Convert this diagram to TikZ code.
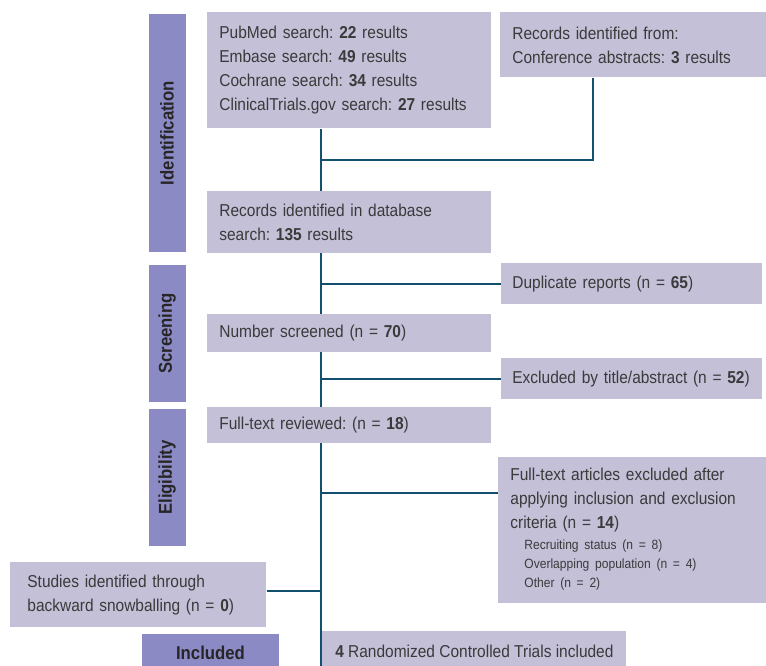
\documentclass[tikz,border=0pt]{standalone}
\usepackage{fontspec}
\setmainfont{Liberation Sans}[FakeStretch=0.9]
\usetikzlibrary{positioning,calc,backgrounds}
\definecolor{stagepurple}{HTML}{8C8AC4}
\definecolor{boxlilac}{HTML}{C4C0D8}
\definecolor{linenavy}{HTML}{134F6E}
\definecolor{inkgray}{HTML}{3A3A3A}
\newcommand\smalltxt{\fontsize{6.7}{9.5}\selectfont}
\frenchspacing
\hyphenpenalty=10000
\tikzset{
  % faser
  stage/.style={fill=stagepurple,text=black!85,font=\fontsize{9.3}{11}\selectfont\bfseries,
                inner sep=0pt,minimum height=18.5pt},
  % rutor
  rec/.style={fill=boxlilac,text=inkgray,anchor=north west,align=left,
              inner xsep=6pt,inner ysep=0pt,font=\fontsize{8.6}{12}\selectfont},
  flow/.style={draw=linenavy,line width=1pt},
}
\begin{document}
\begin{tikzpicture}[x=0.5pt,y=-0.5pt]
\useasboundingbox (0,0) rectangle (766,665);
  % faser
  \node[stage,rotate=90,minimum width=119pt] (ident) at (167,133) {Identification};
  \node[stage,rotate=90,minimum width=68.5pt] (screen) at (167,333.5) {Screening};
  \node[stage,rotate=90,minimum width=68.5pt] (elig) at (167,477.5) {Eligibility};
  \node[stage,minimum width=68.5pt] (incl) at (210.5,652.5) {Included};
  % rutor
  \node[rec,minimum width=142pt,minimum height=58pt,text width=130pt] (search) at (207,12)
    {PubMed search: \textbf{22} results\\Embase search: \textbf{49} results\\
     Cochrane search: \textbf{34} results\\ClinicalTrials.gov search: \textbf{27} results};
  \node[rec,minimum width=133pt,minimum height=32.5pt,text width=121pt] (conf) at (500,12)
    {Records identified from:\\Conference abstracts: \textbf{3} results};
  \node[rec,minimum width=142pt,minimum height=31pt,text width=130pt] (records) at (207,191)
    {Records identified in database\\search: \textbf{135} results};
  \node[rec,minimum width=130.5pt,minimum height=20.5pt,text width=119.5pt,inner xsep=5.5pt] (dup) at (501,263)
    {Duplicate reports (n = \textbf{65})};
  \node[rec,minimum width=142pt,minimum height=19pt,text width=130pt] (screened) at (207,314)
    {Number screened (n = \textbf{70})};
  \node[rec,minimum width=130.5pt,minimum height=20.5pt,text width=119.5pt,inner xsep=5.5pt] (excl) at (501,358)
    {Excluded by title/abstract (n = \textbf{52})};
  \node[rec,minimum width=142pt,minimum height=18pt,text width=130pt] (reviewed) at (207,407)
    {Full-text reviewed: (n = \textbf{18})};
  \node[rec,minimum width=134pt,minimum height=73pt,text width=122pt] (ftex) at (498,457)
    {Full-text articles excluded after\\applying inclusion and exclusion\\criteria (n = \textbf{14})\\[-1.5pt]
     \hspace*{7pt}{\smalltxt\begin{tabular}[t]{@{}l@{}}Recruiting status (n = 8)\\
       Overlapping population (n = 4)\\Other (n = 2)\end{tabular}}};
  \node[rec,minimum width=128pt,minimum height=32.5pt,inner xsep=8.5pt,text width=111pt] (snow) at (10,562)
    {Studies identified through\\backward snowballing (n = \textbf{0})};
  \node[rec,minimum width=152pt,minimum height=20pt,inner xsep=5.5pt] (rct) at (322,631)
    {\textbf{4} Randomized Controlled Trials included};
  % linjer
  \coordinate (sp) at (321,0);
  \coordinate (cj) at (593,160);
  \coordinate (fj) at (321,493);
  \begin{scope}[on background layer]
    \draw[flow] (search.south -| sp) -- (rct.south -| sp);
    \draw[flow] (conf.south -| cj) -- (cj) -- (cj -| sp);
    \draw[flow] (dup.west -| sp) -- (dup.west);
    \draw[flow] (excl.west -| sp) -- (excl.west);
    \draw[flow] (fj) -- (fj -| ftex.west);
    \draw[flow] ([yshift=1.75pt]snow.east) -- ([yshift=1.75pt]snow.east -| sp);
  \end{scope}
\end{tikzpicture}
\end{document}
